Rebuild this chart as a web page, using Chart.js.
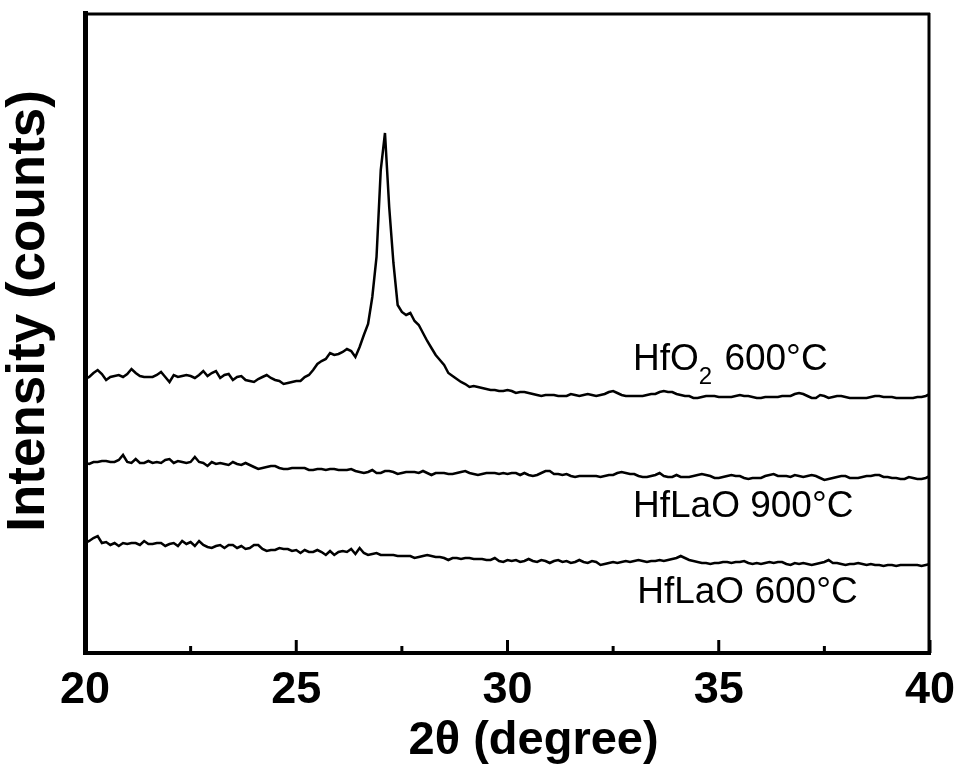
<!DOCTYPE html>
<html>
<head>
<meta charset="utf-8">
<script src="https://cdn.jsdelivr.net/npm/chart.js@4.4.1/dist/chart.umd.min.js"></script>
<style>
  html, body { margin: 0; padding: 0; background: #fff; }
  canvas { display: block; }
</style>
</head>
<body>
<canvas id="xrdChart" width="962" height="769"></canvas>
<script>
// 2-theta grid (degree)
const angles = [
  20.0, 20.1, 20.2, 20.3, 20.4, 20.5, 20.6, 20.7, 20.8, 20.9,
  21.0, 21.1, 21.2, 21.3, 21.4, 21.5, 21.6, 21.7, 21.8, 21.9,
  22.0, 22.1, 22.2, 22.3, 22.4, 22.5, 22.6, 22.7, 22.8, 22.9,
  23.0, 23.1, 23.2, 23.3, 23.4, 23.5, 23.6, 23.7, 23.8, 23.9,
  24.0, 24.1, 24.2, 24.3, 24.4, 24.5, 24.6, 24.7, 24.8, 24.9,
  25.0, 25.1, 25.2, 25.3, 25.4, 25.5, 25.6, 25.7, 25.8, 25.9,
  26.0, 26.1, 26.2, 26.3, 26.4, 26.5, 26.6, 26.7, 26.8, 26.9,
  27.0, 27.1, 27.2, 27.3, 27.4, 27.5, 27.6, 27.7, 27.8, 27.9,
  28.0, 28.1, 28.2, 28.3, 28.4, 28.5, 28.6, 28.7, 28.8, 28.9,
  29.0, 29.1, 29.2, 29.3, 29.4, 29.5, 29.6, 29.7, 29.8, 29.9,
  30.0, 30.1, 30.2, 30.3, 30.4, 30.5, 30.6, 30.7, 30.8, 30.9,
  31.0, 31.1, 31.2, 31.3, 31.4, 31.5, 31.6, 31.7, 31.8, 31.9,
  32.0, 32.1, 32.2, 32.3, 32.4, 32.5, 32.6, 32.7, 32.8, 32.9,
  33.0, 33.1, 33.2, 33.3, 33.4, 33.5, 33.6, 33.7, 33.8, 33.9,
  34.0, 34.1, 34.2, 34.3, 34.4, 34.5, 34.6, 34.7, 34.8, 34.9,
  35.0, 35.1, 35.2, 35.3, 35.4, 35.5, 35.6, 35.7, 35.8, 35.9,
  36.0, 36.1, 36.2, 36.3, 36.4, 36.5, 36.6, 36.7, 36.8, 36.9,
  37.0, 37.1, 37.2, 37.3, 37.4, 37.5, 37.6, 37.7, 37.8, 37.9,
  38.0, 38.1, 38.2, 38.3, 38.4, 38.5, 38.6, 38.7, 38.8, 38.9,
  39.0, 39.1, 39.2, 39.3, 39.4, 39.5, 39.6, 39.7, 39.8, 39.9,
  40.0
];

// intensity (counts, arbitrary offset per curve)
const hfo2At600 = [
  274, 276, 280, 283, 279, 273, 276, 277, 278, 276,
  279, 284, 280, 277, 276, 276, 276, 278, 281, 276,
  271, 278, 276, 277, 278, 277, 275, 278, 282, 277,
  280, 282, 275, 278, 279, 273, 276, 277, 273, 272,
  271, 274, 276, 278, 275, 273, 272, 269, 270, 271,
  272, 272, 276, 278, 283, 289, 292, 294, 300, 298,
  299, 301, 304, 302, 296, 306, 318, 329, 356, 396,
  483, 520, 446, 390, 348, 341, 338, 340, 332, 328,
  320, 312, 305, 298, 293, 288, 280, 277, 274, 271,
  269, 266, 267, 266, 265, 264, 263, 263, 262, 262,
  263, 262, 260, 261, 261, 260, 259, 258, 257, 258,
  258, 258, 257, 257, 257, 259, 258, 257, 258, 259,
  258, 257, 258, 259, 261, 262, 260, 258, 257, 257,
  257, 257, 257, 258, 259, 259, 261, 262, 261, 261,
  259, 258, 257, 257, 255, 255, 256, 257, 257, 257,
  256, 256, 256, 256, 257, 258, 257, 257, 256, 255,
  255, 256, 256, 256, 256, 257, 257, 257, 259, 260,
  259, 257, 255, 255, 258, 257, 255, 256, 257, 257,
  256, 255, 255, 255, 255, 255, 256, 257, 257, 256,
  256, 256, 255, 255, 255, 255, 255, 256, 256, 257,
  259
];

const hflaoAt900 = [
  190, 189, 191, 191, 192, 192, 191, 191, 193, 198,
  191, 190, 194, 190, 190, 192, 190, 191, 190, 193,
  194, 190, 192, 191, 190, 191, 196, 191, 190, 187,
  191, 189, 190, 189, 188, 191, 189, 188, 190, 188,
  186, 184, 185, 186, 187, 187, 185, 184, 184, 185,
  185, 185, 185, 183, 183, 184, 184, 183, 184, 184,
  183, 183, 183, 184, 182, 181, 180, 181, 183, 180,
  180, 182, 182, 181, 179, 180, 181, 181, 181, 180,
  182, 180, 178, 180, 180, 180, 179, 179, 180, 181,
  182, 180, 179, 178, 179, 180, 180, 180, 179, 180,
  179, 180, 180, 178, 180, 178, 177, 178, 180, 182,
  182, 179, 179, 178, 179, 177, 176, 177, 177, 177,
  177, 177, 176, 177, 178, 178, 180, 181, 180, 179,
  179, 177, 176, 176, 177, 178, 180, 177, 176, 176,
  178, 176, 176, 176, 177, 178, 179, 178, 177, 175,
  175, 176, 177, 178, 177, 177, 175, 174, 175, 175,
  175, 177, 178, 179, 177, 177, 177, 176, 178, 177,
  176, 177, 178, 177, 175, 173, 174, 175, 176, 177,
  177, 175, 175, 175, 176, 177, 177, 178, 178, 176,
  176, 175, 175, 174, 174, 176, 175, 174, 174, 175,
  177
];

const hflaoAt600 = [
  110, 112, 115, 117, 110, 111, 108, 110, 107, 110,
  109, 110, 110, 108, 112, 109, 109, 110, 110, 107,
  109, 110, 107, 112, 109, 111, 107, 112, 108, 106,
  105, 107, 108, 105, 108, 108, 105, 107, 104, 105,
  108, 108, 104, 102, 103, 103, 105, 104, 104, 102,
  103, 100, 103, 101, 101, 103, 101, 98, 102, 98,
  101, 102, 101, 104, 99, 105, 100, 98, 99, 100,
  98, 98, 98, 98, 97, 97, 97, 97, 95, 96,
  97, 98, 97, 96, 96, 95, 93, 95, 95, 94,
  95, 95, 94, 94, 94, 93, 93, 95, 92, 91,
  93, 92, 93, 91, 92, 94, 92, 91, 93, 92,
  90, 92, 93, 91, 92, 90, 91, 93, 91, 90,
  92, 91, 88, 89, 90, 91, 90, 91, 92, 91,
  92, 93, 92, 91, 92, 92, 93, 92, 93, 94,
  95, 97, 95, 93, 92, 91, 90, 90, 89, 90,
  90, 91, 91, 90, 91, 91, 92, 90, 89, 90,
  89, 90, 91, 90, 91, 91, 89, 88, 90, 89,
  90, 89, 88, 89, 90, 91, 93, 90, 90, 89,
  88, 89, 89, 90, 89, 88, 89, 88, 88, 87,
  88, 88, 87, 88, 88, 88, 88, 88, 87, 88,
  89
];

const xTicks = [20, 22.5, 25, 27.5, 30, 32.5, 35, 37.5, 40];
const xTickLabels = ['20', '', '25', '', '30', '', '35', '', '40'];

// curve captions: text pieces, anchored at 2theta / intensity
const captionParts = [
  [{ t: 'HfO' }, { t: '2', sub: true }, { t: ' 600°C' }],
  [{ t: 'HfLaO 900°C' }],
  [{ t: 'HfLaO 600°C' }]
];
const captionAngle = [32.97, 32.97, 33.07];
const captionLevel = [283, 136, 50];

const FONT = "'Liberation Sans', Arial, Helvetica, sans-serif";

const toPoints = (values) => values.map((v, i) => ({ x: angles[i], y: v }));

const frameAndCaptions = {
    id: 'frameAndCaptions',
    afterDraw(chart) {
        const { ctx, chartArea: a, scales: { x, y } } = chart;
        ctx.save();
        ctx.strokeStyle = '#000';
        ctx.lineWidth = 3;

        // top and right frame lines
        ctx.beginPath();
        ctx.moveTo(a.left, a.top + 1);
        ctx.lineTo(a.right, a.top + 1);
        ctx.moveTo(a.right - 1, a.top);
        ctx.lineTo(a.right - 1, a.bottom);
        ctx.stroke();

        // inward tick marks
        xTicks.forEach((v, i) => {
            const px = x.getPixelForValue(v);
            const len = xTickLabels[i] ? 13 : 7;
            ctx.beginPath();
            ctx.moveTo(px, a.bottom);
            ctx.lineTo(px, a.bottom - len);
            ctx.stroke();
        });

        // captions
        ctx.fillStyle = '#000';
        ctx.textBaseline = 'alphabetic';
        ctx.textAlign = 'left';
        captionParts.forEach((parts, i) => {
            let px = x.getPixelForValue(captionAngle[i]);
            const py = y.getPixelForValue(captionLevel[i]);
            parts.forEach(p => {
                ctx.font = p.sub ? `24px ${FONT}` : `37px ${FONT}`;
                ctx.fillText(p.t, px, p.sub ? py + 14 : py);
                px += ctx.measureText(p.t).width + (p.sub ? 2 : 0);
            });
        });
        ctx.restore();
    }
};

new Chart(document.getElementById('xrdChart'), {
    type: 'line',
    data: {
        datasets: [
            { label: 'HfO2 600°C', data: toPoints(hfo2At600) },
            { label: 'HfLaO 900°C', data: toPoints(hflaoAt900) },
            { label: 'HfLaO 600°C', data: toPoints(hflaoAt600) }
        ].map(ds => ({
            ...ds,
            borderColor: '#000',
            borderWidth: 2.5,
            pointRadius: 0,
            tension: 0,
            fill: false
        }))
    },
    options: {
        responsive: false,
        animation: false,
        layout: { padding: { top: 13, right: 32, left: 0, bottom: 0 } },
        plugins: {
            legend: { display: false },
            tooltip: { enabled: false }
        },
        scales: {
            x: {
                type: 'linear',
                min: 20,
                max: 40,
                afterBuildTicks: (scale) => { scale.ticks = xTicks.map(v => ({ value: v })); },
                afterFit: (scale) => {
                    scale.height = 116;
                    scale.paddingLeft = 0;
                    scale.paddingRight = 0;
                },
                ticks: {
                    autoSkip: false,
                    maxRotation: 0,
                    padding: 11,
                    color: '#000',
                    font: { family: FONT, size: 45, weight: 'bold', lineHeight: 1.2 },
                    callback: (value, index) => xTickLabels[index]
                },
                grid: { display: false, drawTicks: false },
                border: { display: true, width: 4, color: '#000' },
                title: {
                    display: true,
                    text: '    2θ (degree)',
                    color: '#000',
                    font: { family: FONT, size: 47, weight: 'bold', lineHeight: 1 },
                    padding: { top: 0, bottom: 4 }
                }
            },
            y: {
                min: 0,
                max: 640,
                afterFit: (scale) => { scale.width = 85; },
                ticks: { display: false },
                grid: { display: false, drawTicks: false },
                border: { display: true, width: 5, color: '#000' },
                title: {
                    display: true,
                    text: '   Intensity (counts)',
                    color: '#000',
                    font: { family: FONT, size: 53, weight: 'bold', lineHeight: 1 },
                    padding: { top: 2.5, bottom: 0 }
                }
            }
        }
    },
    plugins: [frameAndCaptions]
});
</script>
</body>
</html>
